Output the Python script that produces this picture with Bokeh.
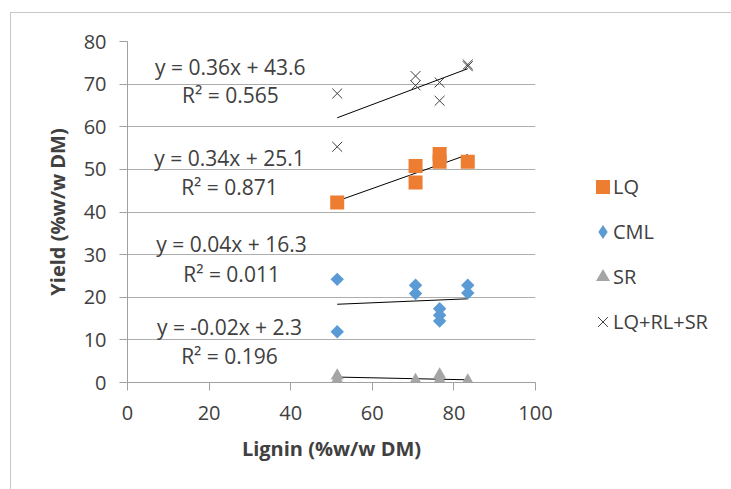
from bokeh.plotting import figure
from bokeh.models import Label, Legend, LegendItem, FixedTicker
from bokeh.layouts import row
from bokeh.embed import file_html
from bokeh.resources import INLINE
import math

# ---- data ----
series_names = ["LQ", "CML", "SR", "LQ+RL+SR"]
lignin_lq = [51.4, 70.6, 70.6, 76.5, 76.5, 83.4]
yield_lq = [42.2, 50.8, 46.9, 53.6, 51.8, 51.8]
lignin_cml = [51.4, 51.4, 70.6, 70.6, 76.5, 76.5, 76.5, 83.4, 83.4]
yield_cml = [24.2, 11.9, 22.8, 20.9, 17.3, 15.8, 14.4, 22.8, 21.0]
lignin_sr = [51.4, 51.4, 70.6, 76.5, 76.5, 83.4]
yield_sr = [1.6, 0.6, 0.5, 1.8, 0.6, 0.4]
lignin_all = [51.4, 51.4, 70.6, 70.6, 76.5, 76.5, 83.4, 83.4]
yield_all = [67.8, 55.3, 71.9, 69.7, 70.4, 66.1, 74.6, 74.2]
trend_slope = [0.34, 0.04, -0.02, 0.36]
trend_intercept = [25.1, 16.3, 2.3, 43.6]
trend_r2 = [0.871, 0.011, 0.196, 0.565]
x_ticks = [0, 20, 40, 60, 80, 100]
y_ticks = [0, 10, 20, 30, 40, 50, 60, 70, 80]

FONT = "Open Sans"
TXT = "#404040"
COLORS = ["#ED7D31", "#5B9BD5", "#A5A5A5", "#404040"]

p = figure(width=570, height=476, x_range=(0, 100), y_range=(0, 80),
           output_backend="svg", toolbar_location=None,
           min_border_left=116, min_border_right=46,
           min_border_top=28, min_border_bottom=107)
p.outline_line_color = None
p.background_fill_color = "white"
p.border_fill_color = "white"

p.xgrid.grid_line_color = None
p.ygrid.grid_line_color = "#ADADAD"
p.ygrid.grid_line_width = 1.2
p.xaxis.ticker = FixedTicker(ticks=x_ticks)
p.yaxis.ticker = FixedTicker(ticks=y_ticks)
for ax in (p.xaxis[0], p.yaxis[0]):
    ax.axis_line_color = "#A0A0A0"
    ax.major_tick_line_color = "#A0A0A0"
    ax.minor_tick_line_color = None
    ax.major_tick_in = 0
    ax.major_tick_out = 8
    ax.major_label_text_font = FONT
    ax.major_label_text_font_size = "20px"
    ax.major_label_text_color = TXT
    ax.axis_label_text_font = FONT
    ax.axis_label_text_font_size = "20px"
    ax.axis_label_text_font_style = "bold"
    ax.axis_label_text_color = TXT
p.xaxis.axis_label = "Lignin (%w/w DM)"
p.yaxis.axis_label = "Yield (%w/w DM)"
p.xaxis.major_label_standoff = 15
p.yaxis.major_label_standoff = 13
p.xaxis.axis_label_standoff = 12
p.yaxis.axis_label_standoff = 10

# trendlines
xs_list = [lignin_lq, lignin_cml, lignin_sr, lignin_all]
for xs, m, b in zip(xs_list, trend_slope, trend_intercept):
    x0, x1 = min(xs), max(xs)
    p.line([x0, x1], [m * x0 + b, m * x1 + b], line_color="black", line_width=1)

p.scatter(lignin_lq, yield_lq, marker="square", size=14,
          fill_color=COLORS[0], line_color=None)
p.scatter(lignin_cml, yield_cml, marker="square", size=9.5, angle=math.pi / 4,
          fill_color=COLORS[1], line_color=None)
p.scatter(lignin_sr, yield_sr, marker="triangle", size=13,
          fill_color=COLORS[2], line_color=None)
p.scatter(lignin_all, yield_all, marker="x", size=14,
          line_color=COLORS[3], line_width=1)

# equation labels
eq_pos = [(25.0, 52.6, 45.9), (25.5, 32.6, 25.5), (25.0, 13.1, 6.3), (25.2, 74.1, 67.5)]
for (lx, ly1, ly2), m, b, r2 in zip(eq_pos, trend_slope, trend_intercept, trend_r2):
    eq = f"y = {m:.2f}x + {b:.1f}"
    for txt, ly in ((eq, ly1), (f"R\u00b2 = {r2:.3f}", ly2)):
        p.add_layout(Label(x=lx, y=ly, text=txt, text_align="center",
                           text_baseline="middle", text_font=FONT,
                           text_font_size="21px", text_color=TXT))

# legend panel (separate figure so it is not clipped)
q = figure(width=150, height=476, x_range=(0, 100), y_range=(0, 80),
           output_backend="svg", toolbar_location=None,
           x_axis_location=None, y_axis_location=None,
           min_border=0)
q.outline_line_color = None
q.grid.grid_line_color = None
q.background_fill_color = "white"
q.border_fill_color = "white"
l_lq = q.scatter(lignin_lq, yield_lq, marker="square", size=14,
                 fill_color=COLORS[0], line_color=None, visible=False)
l_cml = q.scatter(lignin_cml, yield_cml, marker="diamond", size=14,
                  fill_color=COLORS[1], line_color=None, visible=False)
l_sr = q.scatter(lignin_sr, yield_sr, marker="triangle", size=13,
                 fill_color=COLORS[2], line_color=None, visible=False)
l_all = q.scatter(lignin_all, yield_all, marker="x", size=14,
                  line_color=COLORS[3], line_width=1, visible=False)
l_none = q.scatter(lignin_all, yield_all, marker="circle", size=1,
                   fill_alpha=0, line_alpha=0, visible=False)

common = dict(orientation="vertical", glyph_height=35, label_height=20,
              spacing=10, padding=0, margin=0,
              label_text_font=FONT, label_text_font_size="20px",
              label_text_color=TXT, border_line_color=None,
              background_fill_alpha=0)
# marker column
legend_marks = Legend(items=[LegendItem(label="", renderers=[r])
                             for r in (l_lq, l_cml, l_sr, l_all)],
                      location=(4, 43), glyph_width=35, label_standoff=0, **common)
# label column
legend_text = Legend(items=[LegendItem(label=n, renderers=[l_none])
                            for n in series_names],
                     location=(31, 43), glyph_width=1, label_standoff=0, **common)
q.add_layout(legend_marks, "center")
q.add_layout(legend_text, "center")

layout = row(p, q, styles={"margin-left": "10px", "margin-top": "12px",
                           "border-left": "1px solid #C8C8C8",
                           "border-top": "1px solid #C8C8C8"})

open("out.html", "w").write(file_html(layout, INLINE))
